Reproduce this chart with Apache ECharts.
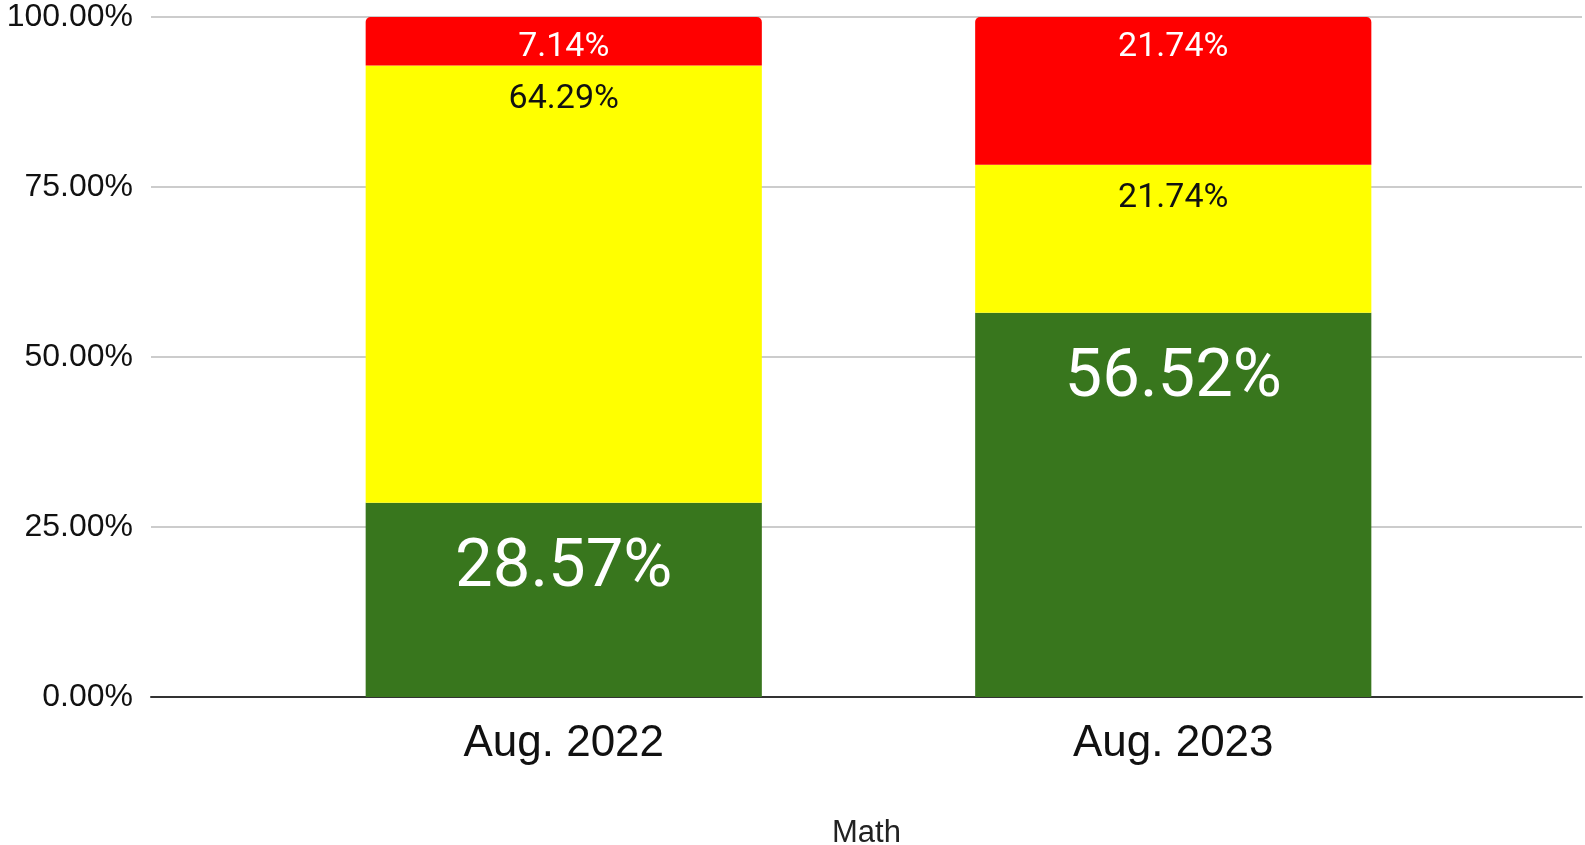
<!DOCTYPE html>
<html>
<head>
<meta charset="utf-8">
<title>Math</title>
<script src="https://cdn.jsdelivr.net/npm/echarts@6/dist/echarts.min.js"></script>
<style>
  html, body { margin: 0; padding: 0; background: #fff; }
  #chart { width: 1585px; height: 845px; }
</style>
</head>
<body>
<div id="chart"></div>
<script>
  // data
  const categories = ['Aug. 2022', 'Aug. 2023']
  const greenVals = [28.57, 56.52]
  const yellowVals = [64.29, 21.74]
  const redVals = [7.14, 21.74]
  const yTicks = [0, 25, 50, 75, 100]

  const axisFont = '"Liberation Sans", Arial, sans-serif'
  const labelFont = 'Roboto, "Liberation Sans", sans-serif'
  const pct = v => Number(v).toFixed(2) + '%'

  const chart = echarts.init(document.getElementById('chart'))

  chart.setOption({
    backgroundColor: '#fff',
    animation: false,
    grid: [
      // full width grid: y labels, gridlines, baseline
      { left: 151, right: 3, top: 17, bottom: 148, outerBoundsMode: 'none' },
      // inner grid holding the bars
      { left: 259, right: 107, top: 17, bottom: 148, outerBoundsMode: 'none' }
    ],
    xAxis: [{
      gridIndex: 0,
      type: 'category',
      data: categories,
      name: 'Math',
      nameLocation: 'middle',
      nameGap: 121,
      nameTextStyle: { fontFamily: axisFont, fontSize: 31, color: '#222' },
      axisLine: { lineStyle: { color: '#333', width: 2 } },
      axisTick: { show: false },
      axisLabel: { show: false },
      splitLine: { show: false }
    }, {
      gridIndex: 1,
      type: 'category',
      data: categories,
      axisLine: { show: false },
      axisTick: { show: false },
      axisLabel: {
        margin: 25,
        fontFamily: axisFont,
        fontSize: 44,
        color: '#111'
      }
    }],
    yAxis: [{
      gridIndex: 0,
      type: 'value',
      min: yTicks[0],
      max: yTicks[yTicks.length - 1],
      interval: yTicks[1] - yTicks[0],
      axisLine: { show: false },
      axisTick: { show: false },
      axisLabel: {
        margin: 18,
        fontFamily: axisFont,
        fontSize: 32,
        color: '#111',
        formatter: v => pct(v)
      },
      splitLine: { lineStyle: { color: '#cccccc', width: 2 } }
    }, {
      gridIndex: 1,
      type: 'value',
      min: 0,
      max: 100,
      show: false,
      splitLine: { show: false }
    }],
    series: [{
      name: 'green',
      type: 'bar',
      stack: 'total',
      xAxisIndex: 1,
      yAxisIndex: 1,
      barWidth: '65%',
      data: greenVals,
      itemStyle: { color: '#38761d' },
      label: {
        show: true,
        position: 'insideTop',
        distance: 33,
        fontFamily: labelFont,
        fontSize: 67,
        color: '#fff',
        formatter: p => pct(p.value)
      }
    }, {
      name: 'yellow',
      type: 'bar',
      stack: 'total',
      xAxisIndex: 1,
      yAxisIndex: 1,
      barWidth: '65%',
      data: yellowVals,
      itemStyle: { color: '#ffff00' },
      label: {
        show: true,
        position: 'insideTop',
        distance: 17,
        fontFamily: labelFont,
        fontSize: 34,
        color: '#111',
        formatter: p => pct(p.value)
      }
    }, {
      name: 'red',
      type: 'bar',
      stack: 'total',
      xAxisIndex: 1,
      yAxisIndex: 1,
      barWidth: '65%',
      data: redVals,
      itemStyle: { color: '#ff0000', borderRadius: [5, 5, 0, 0] },
      label: {
        show: true,
        position: 'insideTop',
        distance: 13,
        fontFamily: labelFont,
        fontSize: 34,
        color: '#fff',
        formatter: p => pct(p.value)
      }
    }]
  })
</script>
</body>
</html>
